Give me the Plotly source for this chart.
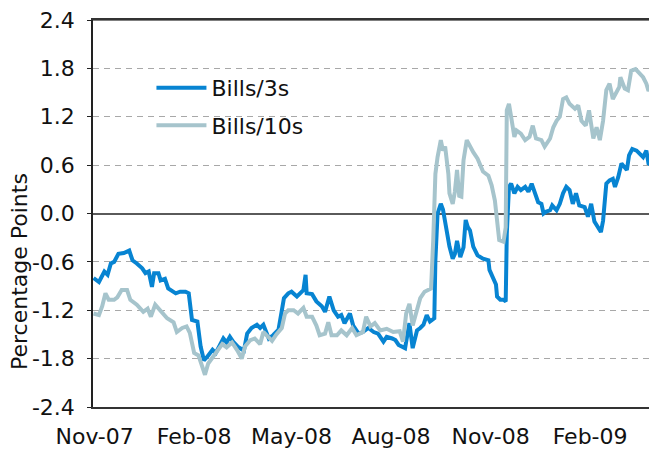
import pandas as pd
import plotly.graph_objects as go

# observation dates expressed as days after 2007-10-31
base_date = "2007-10-31"

days_3s = [0, 5, 10, 13, 16, 19, 23, 28, 33, 36, 40, 45, 48, 51, 54, 56, 60, 62, 66, 69,
           76, 80, 85, 88, 91, 96, 99, 102, 105, 110, 113, 116, 120, 123, 126, 129, 134, 139, 142, 146,
           151, 154, 157, 162, 166, 171, 176, 180, 183, 188, 191, 194, 196, 197, 202, 206, 211, 214, 218, 222,
           226, 229, 232, 237, 240, 245, 249, 254, 259, 263, 268, 271, 276, 279, 282, 285, 288, 289, 292, 295,
           299, 302, 305, 308, 311, 315, 316, 318, 321, 323, 326, 329, 332, 334, 336, 339, 342, 344, 346, 348,
           351, 355, 360, 365, 366, 369, 372, 373, 376, 379, 381, 382, 384, 386, 389, 392, 395, 399, 402, 405,
           408, 411, 414, 416, 418, 422, 424, 428, 431, 434, 437, 440, 443, 446, 449, 454, 457, 460, 463, 466,
           469, 471, 474, 477, 480, 482, 485, 488, 491, 493, 495, 498, 502, 505, 508, 511, 513, 516]
bills_3s = [-0.80, -0.85, -0.72, -0.76, -0.62, -0.60, -0.50, -0.49, -0.46, -0.58, -0.62, -0.68, -0.74, -0.72, -0.91, -0.74, -0.74, -0.83, -0.81, -0.93,
            -0.99, -0.97, -0.97, -0.99, -1.32, -1.34, -1.65, -1.82, -1.78, -1.69, -1.73, -1.65, -1.55, -1.60, -1.53, -1.59, -1.66, -1.70, -1.49, -1.42,
            -1.38, -1.42, -1.38, -1.55, -1.51, -1.44, -1.05, -0.99, -0.97, -1.03, -0.99, -0.95, -0.76, -0.99, -1.00, -1.09, -1.15, -1.22, -1.03, -1.20,
            -1.28, -1.26, -1.36, -1.24, -1.39, -1.49, -1.47, -1.42, -1.47, -1.49, -1.59, -1.53, -1.55, -1.57, -1.63, -1.65, -1.67, -1.59, -1.36, -1.67,
            -1.45, -1.42, -1.38, -1.26, -1.34, -1.30, -0.58, 0.00, 0.12, 0.05, -0.17, -0.41, -0.56, -0.50, -0.34, -0.54, -0.42, -0.08, -0.17, -0.21,
            -0.41, -0.52, -0.56, -0.58, -0.70, -0.78, -0.88, -1.03, -1.07, -1.07, -1.09, -0.25, 0.33, 0.37, 0.25, 0.33, 0.29, 0.33, 0.27, 0.37,
            0.25, 0.14, 0.12, 0.00, 0.02, 0.04, 0.10, 0.04, 0.12, 0.25, 0.33, 0.29, 0.12, 0.25, 0.10, 0.08, -0.04, 0.12, -0.10, -0.17,
            -0.23, -0.09, 0.37, 0.41, 0.43, 0.33, 0.45, 0.62, 0.58, 0.54, 0.72, 0.80, 0.78, 0.74, 0.70, 0.78, 0.62, 0.60]

days_10s = [0, 5, 8, 11, 14, 19, 22, 26, 31, 34, 40, 46, 50, 53, 57, 62, 68, 74, 77, 82,
            86, 89, 93, 97, 100, 103, 106, 110, 114, 119, 123, 128, 133, 137, 140, 145, 149, 154, 157, 160,
            165, 169, 174, 177, 180, 185, 189, 194, 197, 202, 206, 209, 214, 217, 220, 225, 229, 234, 239, 243,
            249, 252, 256, 260, 265, 271, 277, 283, 286, 289, 292, 295, 299, 302, 306, 312, 314, 316, 318, 321,
            323, 325, 328, 329, 332, 334, 336, 338, 340, 342, 345, 348, 351, 355, 360, 365, 368, 371, 373, 375,
            379, 381, 382, 384, 386, 389, 391, 395, 399, 403, 406, 409, 414, 417, 422, 425, 428, 431, 434, 437,
            440, 445, 448, 451, 455, 458, 462, 465, 468, 471, 474, 477, 480, 483, 486, 487, 491, 494, 497, 501,
            505, 508, 511, 513, 515]
bills_10s = [-1.24, -1.26, -1.15, -0.99, -1.07, -1.07, -1.04, -0.95, -0.95, -1.07, -1.13, -1.22, -1.18, -1.28, -1.13, -1.20, -1.30, -1.35, -1.47, -1.42,
             -1.40, -1.48, -1.73, -1.76, -1.90, -2.00, -1.86, -1.78, -1.72, -1.62, -1.66, -1.60, -1.70, -1.80, -1.65, -1.57, -1.55, -1.62, -1.47, -1.51,
             -1.58, -1.50, -1.42, -1.24, -1.20, -1.20, -1.24, -1.17, -1.28, -1.28, -1.39, -1.51, -1.49, -1.35, -1.51, -1.51, -1.45, -1.51, -1.42, -1.51,
             -1.47, -1.28, -1.40, -1.36, -1.45, -1.43, -1.47, -1.46, -1.59, -1.24, -1.12, -1.39, -1.17, -1.05, -0.97, -0.93, -0.33, 0.49, 0.70, 0.91,
             0.78, 0.83, 0.49, 0.25, 0.12, 0.27, 0.54, 0.22, 0.21, 0.66, 0.91, 0.83, 0.76, 0.68, 0.52, 0.47, 0.35, 0.16, -0.08, -0.33,
             -0.35, -0.17, 1.28, 1.36, 1.20, 0.95, 1.03, 0.99, 0.91, 0.95, 1.09, 0.93, 0.91, 0.83, 0.93, 1.07, 1.15, 1.20, 1.42, 1.44,
             1.36, 1.30, 1.34, 1.15, 1.09, 1.28, 0.93, 1.07, 0.91, 1.15, 1.53, 1.61, 1.42, 1.51, 1.57, 1.69, 1.55, 1.53, 1.77, 1.79,
             1.73, 1.69, 1.61, 1.52, 1.57]

tick_dates = ["2007-11-01", "2008-02-01", "2008-05-01", "2008-08-01", "2008-11-01", "2009-02-01"]
tick_labels = ["Nov-07", "Feb-08", "May-08", "Aug-08", "Nov-08", "Feb-09"]
y_ticks = [-2.4, -1.8, -1.2, -0.6, 0.0, 0.6, 1.2, 1.8, 2.4]
y_tick_labels = ["-2.4", "-1.8", "-1.2", "-0.6", "0.0", "0.6", "1.2", "1.8", "2.4"]

base = pd.Timestamp(base_date)
x_3s = base + pd.to_timedelta(days_3s, unit="D")
x_10s = base + pd.to_timedelta(days_10s, unit="D")
x_range = [base - pd.Timedelta(hours=12), base + pd.Timedelta(days=519)]

FONT = "DejaVu Sans"
BLUE = "#0784d2"
GREY = "#a6c4cc"
TXT = "#111111"

fig = go.Figure()
fig.add_trace(go.Scatter(x=x_3s, y=bills_3s, mode="lines", name="Bills/3s",
                         line=dict(color=BLUE, width=4), legendrank=1, legendgroup="a"))
fig.add_trace(go.Scatter(x=x_10s, y=bills_10s, mode="lines", name="Bills/10s",
                         line=dict(color=GREY, width=4), legendrank=2, legendgroup="b"))

# the page body adds an 8px offset, so the figure is sized 8px smaller
fig.update_layout(
    width=649, height=441,
    margin=dict(l=85, r=2, t=12, b=42),
    paper_bgcolor="white", plot_bgcolor="white",
    font=dict(family=FONT, size=22, color=TXT),
    showlegend=True,
    legend=dict(x=0.104, y=0.879, xanchor="left", yanchor="top",
                bgcolor="rgba(0,0,0,0)", borderwidth=0, itemwidth=50,
                tracegroupgap=6, font=dict(family=FONT, size=22, color=TXT)),
    xaxis=dict(type="date", range=x_range, tickvals=tick_dates, ticktext=tick_labels,
               showgrid=False, zeroline=False, showline=True, linecolor="#333333",
               linewidth=1.5, mirror=True, ticks="", ticklabelstandoff=9, automargin=False,
               ticklabeloverflow="allow",
               tickfont=dict(family=FONT, size=22, color=TXT)),
    yaxis=dict(range=[-2.4, 2.4], tickvals=y_ticks, ticktext=y_tick_labels,
               showgrid=True, gridcolor="#a8a8a8", gridwidth=1, griddash="6px,5px",
               zeroline=True, zerolinecolor="#5a5a5a", zerolinewidth=1.5,
               showline=True, linecolor="#222222", linewidth=1.5, automargin=False,
               ticklabeloverflow="allow",
               ticks="outside", ticklen=4, tickcolor="#222222", ticklabelstandoff=8,
               tickfont=dict(family=FONT, size=22, color=TXT)),
    shapes=[dict(type="line", xref="paper", yref="y", x0=0, x1=1, y0=2.4, y1=2.4,
                 line=dict(color="#555555", width=1.5), layer="above")],
    annotations=[dict(text="Percentage Points", textangle=-90, xref="paper", yref="paper",
                      x=-0.132, y=0.351, xanchor="center", yanchor="middle", showarrow=False,
                      font=dict(family=FONT, size=22, color=TXT))],
)

fig.write_html("out.html")
